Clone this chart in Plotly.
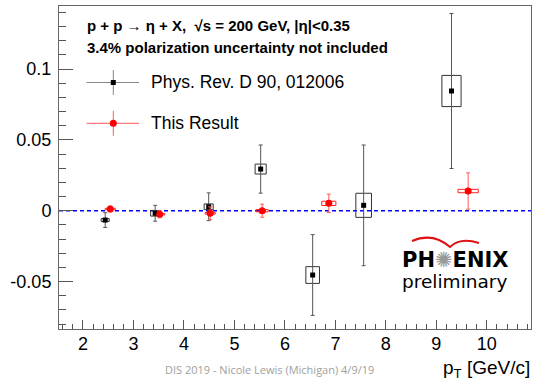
import plotly.graph_objects as go

# ---------------- data ----------------
# Phys. Rev. D 90, 012006 (black)
x_prd = [2.44, 3.43, 4.49, 5.52, 6.55, 7.56, 9.30]
y_prd = [-0.0066, -0.0018, 0.0028, 0.0294, -0.0454, 0.0038, 0.0845]
err_prd = [0.0052, 0.0056, 0.0098, 0.0170, 0.0285, 0.0426, 0.0547]
sysx_prd = [0.08, 0.09, 0.09, 0.11, 0.135, 0.155, 0.19]
sysy_prd = [0.0010, 0.0020, 0.0020, 0.0035, 0.0059, 0.0085, 0.0110]

# This Result (red)
x_new = [2.54, 3.52, 4.52, 5.55, 6.87, 9.63]
y_new = [0.0012, -0.0025, -0.0018, 0.0000, 0.0052, 0.0139]
err_new = [0.0020, 0.0025, 0.0045, 0.0046, 0.0065, 0.0128]
sysx_new = [0.10, 0.10, 0.10, 0.12, 0.14, 0.20]
sysy_new = [0.0005, 0.0005, 0.0006, 0.0008, 0.0015, 0.0012]

x_ticks = [2, 3, 4, 5, 6, 7, 8, 9, 10]
y_ticks = [-0.05, 0, 0.05, 0.1]
y_ticktext = ["-0.05", "0", "0.05", "0.1"]

# ---------------- layout geometry ----------------
W, H = 535, 384
L, R, T, B = 59, 4, 6, 55
PW, PH = W - L - R, H - T - B


def px(x):
    return (x - L) / PW


def py(y):
    return (H - B - y) / PH


def boxes(xs, ys, dx, dy):
    bx, by = [], []
    for x, y, a, b in zip(xs, ys, dx, dy):
        bx += [x - a, x + a, x + a, x - a, x - a, None]
        by += [y - b, y - b, y + b, y + b, y - b, None]
    return bx, by


fig = go.Figure()

bx, by = boxes(x_prd, y_prd, sysx_prd, sysy_prd)
fig.add_trace(go.Scatter(x=bx, y=by, mode="lines", line=dict(color="#333", width=1),
                         hoverinfo="skip", showlegend=False))
bx, by = boxes(x_new, y_new, sysx_new, sysy_new)
fig.add_trace(go.Scatter(x=bx, y=by, mode="lines", line=dict(color="#ff2020", width=1),
                         hoverinfo="skip", showlegend=False))

fig.add_trace(go.Scatter(
    x=x_prd, y=y_prd, mode="markers", name="Phys. Rev. D 90, 012006",
    marker=dict(symbol="square", size=5, color="black"),
    error_y=dict(type="data", array=err_prd, color="#555", thickness=1, width=2),
    showlegend=False))
fig.add_trace(go.Scatter(
    x=x_new, y=y_new, mode="markers", name="This Result",
    marker=dict(symbol="circle", size=7, color="#ff0000"),
    error_y=dict(type="data", array=err_new, color="#ff5a5a", thickness=1, width=2),
    showlegend=False))

shapes = []
# zero line
shapes.append(dict(type="line", xref="paper", yref="y", x0=0, x1=1, y0=0, y1=0,
                   line=dict(color="#0000ff", width=1.5, dash="4px,3px"), layer="below"))

# legend symbols
for yc, lc, mc, sym in [(82.5, "#888", "black", "sq"), (123.3, "#ff5a5a", "#ff0000", "ci")]:
    shapes.append(dict(type="line", xref="paper", yref="paper", x0=px(86.5), x1=px(139),
                       y0=py(yc), y1=py(yc), line=dict(color=lc, width=1)))
    shapes.append(dict(type="line", xref="paper", yref="paper", x0=px(113.3), x1=px(113.3),
                       y0=py(yc - 12.5), y1=py(yc + 12.5), line=dict(color=lc, width=1)))
    if sym == "sq":
        shapes.append(dict(type="rect", xref="paper", yref="paper", x0=px(110.8), x1=px(115.8),
                           y0=py(yc + 2.5), y1=py(yc - 2.5), fillcolor=mc, line=dict(width=0)))
    else:
        shapes.append(dict(type="circle", xref="paper", yref="paper", x0=px(109.8), x1=px(116.8),
                           y0=py(yc + 3.5), y1=py(yc - 3.5), fillcolor=mc, line=dict(width=0)))


# PHENIX swoosh
def P(x, y):
    return f"{px(x):.5f},{py(y):.5f}"


swoosh = f"M {P(412,241)} Q {P(433,232)} {P(450,247)} Q {P(460,237)} {P(479,243)}"
shapes.append(dict(type="path", xref="paper", yref="paper", path=swoosh,
                   line=dict(color="#e01010", width=2)))

annotations = []


def ann(text, x, y, size, xanchor="left", color="black", family="Liberation Sans, Arial"):
    annotations.append(dict(text=text, x=px(x), y=py(y), xref="paper", yref="paper",
                            xanchor=xanchor, yanchor="middle", showarrow=False,
                            font=dict(size=size, color=color, family=family)))


ann("<b>p + p \u2192 \u03b7 + X,  \u221as = 200 GeV, |\u03b7|<0.35</b>", 85, 25, 15)
ann("<b>3.4% polarization uncertainty not included</b>", 85, 48, 15)
ann("Phys. Rev. D 90, 012006", 149, 82, 17.5)
ann("This Result", 149, 123, 17.5)
ann("<b>PH</b><span style='color:#999'>\u273a</span><b>ENIX</b>", 400, 260, 21,
    family="DejaVu Sans")
ann("preliminary", 400, 281, 18.5, family="DejaVu Sans")
ann("p<sub>T</sub> [GeV/c]", 532, 369, 19, xanchor="right")
ann("DIS 2019 - Nicole Lewis (Michigan) 4/9/19", 269, 370, 11, xanchor="center",
    color="#a0a0a0", family="Open Sans")

fig.update_layout(
    width=W, height=H,
    margin=dict(l=L, r=R, t=T, b=B),
    paper_bgcolor="white", plot_bgcolor="white",
    showlegend=False,
    shapes=shapes, annotations=annotations,
    font=dict(family="Liberation Sans, Arial", size=18, color="black"),
)
fig.update_xaxes(
    range=[1.525, 10.875], tickmode="array", tickvals=x_ticks,
    ticks="inside", ticklen=9, tickcolor="#555", tickwidth=1,
    minor=dict(tickmode="linear", tick0=0, dtick=0.2, ticks="inside", ticklen=5,
               tickcolor="#555", showgrid=False),
    showgrid=False, zeroline=False, showline=True, mirror=True,
    linecolor="#666", linewidth=1, ticklabelstandoff=-2,
    tickfont=dict(size=18),
)
fig.update_yaxes(
    range=[-0.0835, 0.1445], tickmode="array", tickvals=y_ticks, ticktext=y_ticktext,
    ticks="inside", ticklen=14, tickcolor="#555", tickwidth=1,
    minor=dict(tickmode="linear", tick0=0, dtick=0.01, ticks="inside", ticklen=7,
               tickcolor="#555", showgrid=False),
    showgrid=False, zeroline=False, showline=True, mirror=True,
    linecolor="#666", linewidth=1, ticklabelstandoff=3,
    tickfont=dict(size=18),
)

fig.write_html("out.html")
